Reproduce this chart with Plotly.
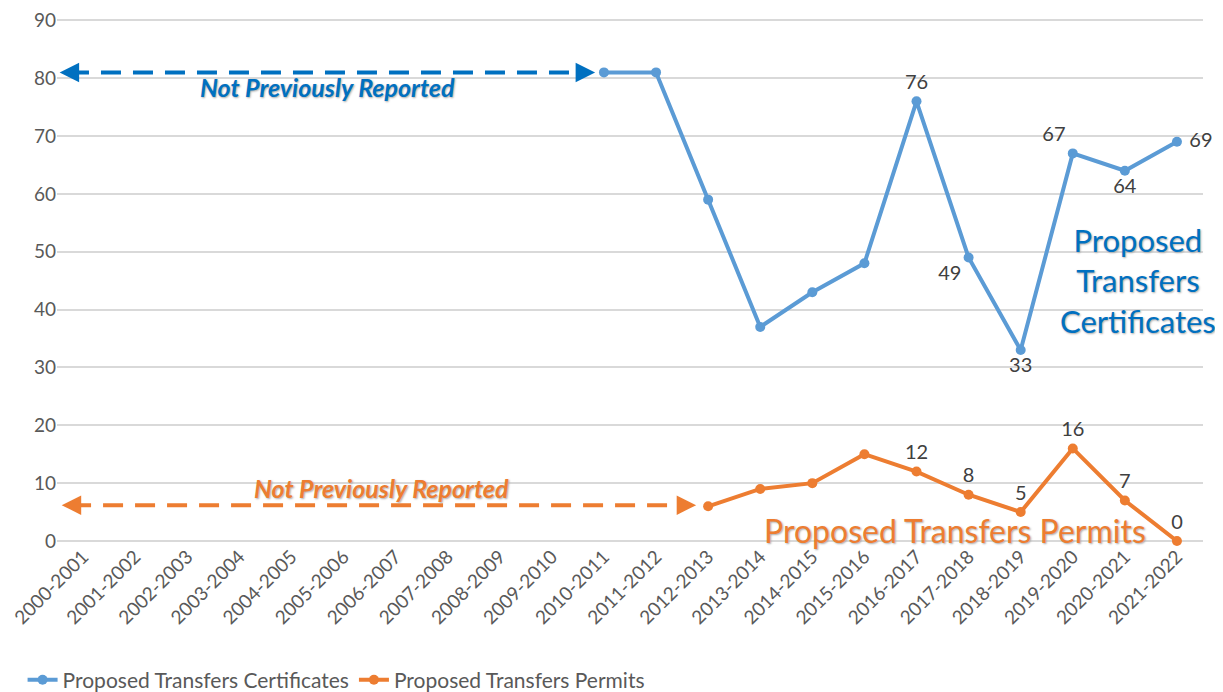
import plotly.graph_objects as go

categories = ["2000-2001", "2001-2002", "2002-2003", "2003-2004", "2004-2005", "2005-2006",
              "2006-2007", "2007-2008", "2008-2009", "2009-2010", "2010-2011", "2011-2012",
              "2012-2013", "2013-2014", "2014-2015", "2015-2016", "2016-2017", "2017-2018",
              "2018-2019", "2019-2020", "2020-2021", "2021-2022"]
certificates = [None] * 10 + [81, 81, 59, 37, 43, 48, 76, 49, 33, 67, 64, 69]
permits = [None] * 12 + [6, 9, 10, 15, 12, 8, 5, 16, 7, 0]
y_ticks = [0, 10, 20, 30, 40, 50, 60, 70, 80, 90]

cert_labels = ["" if (v is None or i < 16) else str(v) for i, v in enumerate(certificates)]
cert_labels[21] = " " + cert_labels[21]
cert_pos = ["top center"] * 22
cert_pos[17] = "bottom left"
cert_pos[18] = "bottom center"
cert_pos[19] = "top left"
cert_pos[20] = "bottom center"
cert_pos[21] = "middle right"
perm_labels = ["" if (v is None or i < 16) else str(v) for i, v in enumerate(permits)]

BLUE = "#5B9BD5"
ORANGE = "#ED7D31"
DBLUE = "#0070C0"
FONT = "Lato, Carlito, sans-serif"
SHADOW = "1px 1px 2px #aaaaaa"

fig = go.Figure()
fig.add_trace(go.Scatter(
    x=categories, y=certificates, name="Proposed Transfers Certificates",
    mode="lines+markers+text", line=dict(color=BLUE, width=4),
    marker=dict(size=10, color=BLUE), text=cert_labels, textposition=cert_pos,
    textfont=dict(size=20, color="#404040", family=FONT), cliponaxis=False))
fig.add_trace(go.Scatter(
    x=categories, y=permits, name="Proposed Transfers Permits",
    mode="lines+markers+text", line=dict(color=ORANGE, width=4),
    marker=dict(size=10, color=ORANGE), text=perm_labels, textposition="top center",
    textfont=dict(size=20, color="#404040", family=FONT), cliponaxis=False))

# dashed "not previously reported" arrows
arrows = [(-0.42, 9.78, 81, DBLUE), (-0.38, 11.72, 6.2, ORANGE)]
for x0, x1, yv, col in arrows:
    fig.add_shape(type="line", x0=x0 + 0.15, x1=x1 - 0.15, y0=yv, y1=yv, xref="x", yref="y",
                  line=dict(color=col, width=4, dash="20px,12px"), layer="above")
    fig.add_annotation(x=x1 + 0.05, y=yv, ax=-14, ay=0, xref="x", yref="y", text="",
                       showarrow=True, arrowhead=2, arrowsize=1.3, arrowwidth=3, arrowcolor=col)
    fig.add_annotation(x=x0 - 0.03, y=yv, ax=14, ay=0, xref="x", yref="y", text="",
                       showarrow=True, arrowhead=2, arrowsize=1.3, arrowwidth=3, arrowcolor=col)

fig.add_annotation(x=4.7, y=78.5, xref="x", yref="y", text="<b><i>Not Previously Reported</i></b>",
                   showarrow=False, font=dict(size=25, color=DBLUE, family=FONT, shadow=SHADOW))
fig.add_annotation(x=5.72, y=9.1, xref="x", yref="y", text="<b><i>Not Previously Reported</i></b>",
                   showarrow=False, font=dict(size=25, color=ORANGE, family=FONT, shadow=SHADOW))
fig.add_annotation(x=20.25, y=45.1, xref="x", yref="y",
                   text="Proposed<br>Transfers<br>Certificates", showarrow=False,
                   font=dict(size=31, color=DBLUE, family=FONT, shadow=SHADOW))
fig.add_annotation(x=16.74, y=1.9, xref="x", yref="y", text="Proposed Transfers Permits",
                   showarrow=False, font=dict(size=32, color=ORANGE, family=FONT, shadow=SHADOW))

fig.update_layout(
    width=1215, height=684,
    margin=dict(l=49, r=20, t=10, b=151, autoexpand=False),
    plot_bgcolor="white", paper_bgcolor="white",
    font=dict(family=FONT, color="#595959", size=20),
    showlegend=True,
    legend=dict(orientation="h", xref="container", yref="container", x=0.012, xanchor="left",
                y=0.0175, yanchor="middle", font=dict(size=21, color="#595959")),
    xaxis=dict(type="category", range=[-0.5, 21.5], tickangle=-45, showgrid=False,
               showline=False, ticks="", automargin=False, ticklabeloverflow="allow",
               tickfont=dict(size=19, color="#595959")),
    yaxis=dict(range=[0, 90.4], tickvals=y_ticks,
               showgrid=True, gridcolor="#D9D9D9", gridwidth=1.5,
               zeroline=True, zerolinecolor="#D9D9D9", zerolinewidth=1.5, showline=False,
               ticks="", automargin=False, ticklabeloverflow="allow",
               tickfont=dict(size=19, color="#595959")),
)

fig.write_html("out.html")
